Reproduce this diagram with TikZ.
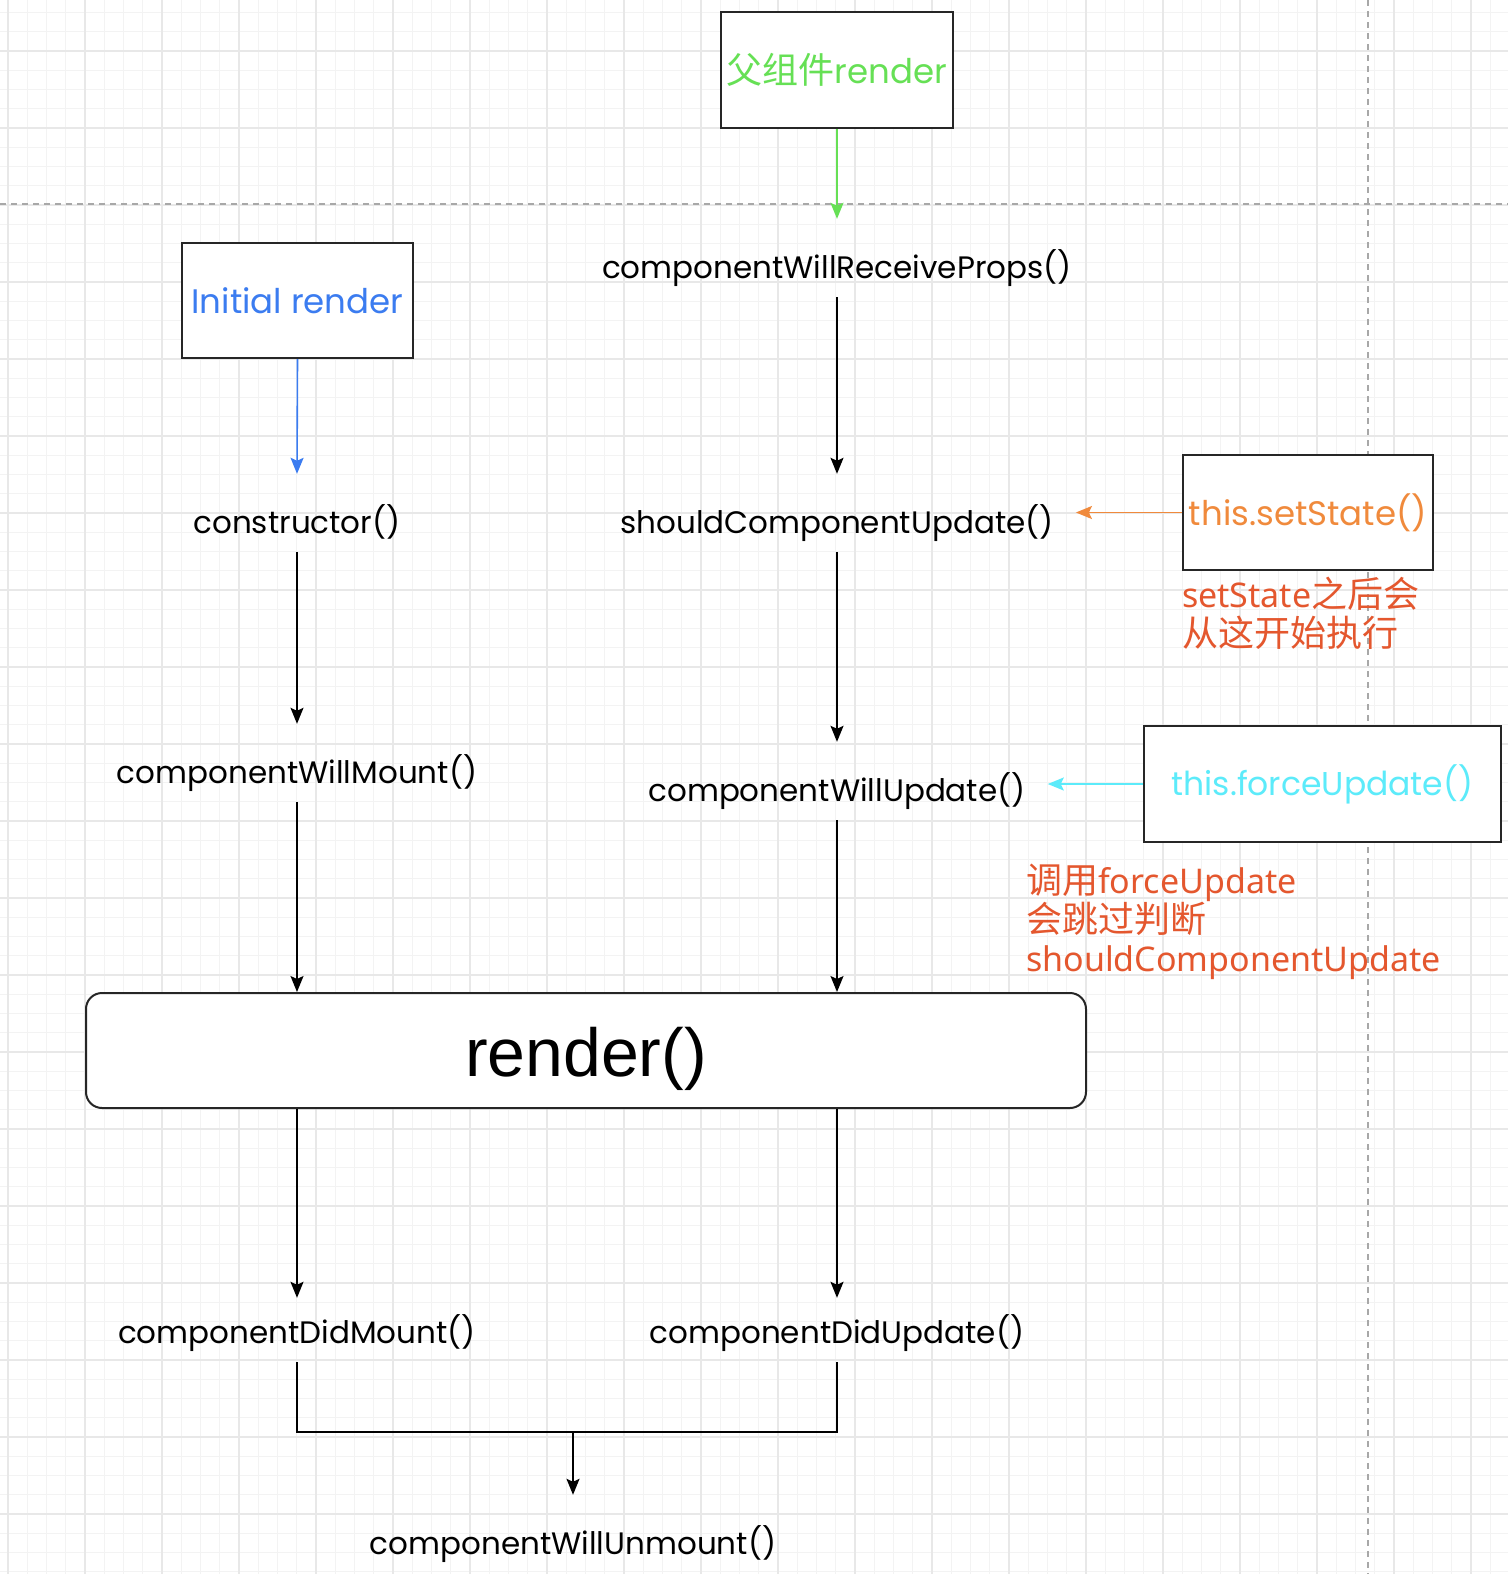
\documentclass[tikz,border=0pt]{standalone}
\usepackage{fontspec}
\setmainfont{Poppins}
\newfontfamily\cjk[Scale=1.06]{Noto Sans CJK SC}
\newfontfamily\notefont{Noto Sans}
\newfontfamily\renderfont{Liberation Sans}
\usetikzlibrary{arrows.meta, positioning}

\definecolor{gridmajor}{HTML}{E8E8E8}
\definecolor{gridminor}{HTML}{F3F3F3}
\definecolor{guidegray}{HTML}{A8A8A8}
\definecolor{parentgreen}{HTML}{66E055}
\definecolor{initblue}{HTML}{3B7CF0}
\definecolor{setorange}{HTML}{F08A3C}
\definecolor{forcecyan}{HTML}{5CEBFA}
\definecolor{notered}{HTML}{E4572E}

\newcommand{\hookfont}{\fontsize{31}{36}\selectfont}
\newcommand{\boxfont}{\fontsize{34}{40}\selectfont}

\begin{document}
\begin{tikzpicture}[x=1pt, y=-1pt,
    box/.style={rectangle, draw=black!85, line width=2pt, fill=white, inner xsep=2pt, font=\boxfont},
    hook/.style={font=\hookfont, inner ysep=0pt, inner xsep=22pt, text height=59pt, text depth=19pt, anchor=base},
    link/.style={-{Stealth[length=16pt, width=13pt, inset=3pt]}, line width=1.6pt},
    guide/.style={guidegray, line width=1.5pt, dash pattern=on 6pt off 5pt},
    note/.style={anchor=north west, align=left, text=notered, inner sep=0pt, font=\notefont\fontsize{34}{39}\selectfont}]

\useasboundingbox (0,0) rectangle (1508,1574);
\fill[white] (0,0) rectangle (1508,1574);

% background grid
\foreach \i in {-1,...,78}
    \draw[gridminor, line width=0.8pt] ({8+19.25*\i},0) -- ({8+19.25*\i},1574);
\foreach \i in {-2,...,79}
    \draw[gridminor, line width=0.8pt] (0,{51+19.25*\i}) -- (1508,{51+19.25*\i});
\foreach \i in {0,...,19}
    \draw[gridmajor, line width=1.2pt] ({8+77*\i},0) -- ({8+77*\i},1574);
\foreach \i in {0,...,19}
    \draw[gridmajor, line width=1.2pt] (0,{51+77*\i}) -- (1508,{51+77*\i});
\draw[guide] (0,204) -- (1508,204);
\draw[guide] (1368,0) -- (1368,1574);

% triggers
\node [box, minimum width=232, minimum height=116, text=parentgreen] (parent) at (837,70) {{\cjk 父组件}render};
\node [box, minimum width=231, minimum height=115, text=initblue] (init) at (297.5,300.5) {Initial render};
\node [box, minimum width=250, minimum height=115, text=setorange] (setstate) at (1308,512.5) {this.setState()};
\node [box, minimum width=357, minimum height=116, text=forcecyan, font=\fontsize{33}{40}\selectfont] (force) at (1322.5,784) {this.forceUpdate()};

% lifecycle hooks
\node [hook] (receive) at (837,278) {componentWillReceiveProps()};
\node [hook] (should) at (837,533) {shouldComponentUpdate()};
\node [hook] (willupdate) at (837,801) {componentWillUpdate()};
\node [hook] (ctor) at (297,533) {constructor()};
\node [hook] (willmount) at (297,783) {componentWillMount()};
\node [box, rounded corners=16pt, minimum width=1000, minimum height=115,
    font=\renderfont\fontsize{68}{76}\selectfont] (render) at (586,1050.5) {\raisebox{-8pt}[\height][\depth]{render()}};
\node [hook, text height=45pt] (didmount) at (297,1343) {componentDidMount()};
\node [hook, text height=45pt] (didupdate) at (837,1343) {componentDidUpdate()};
\node [hook] (unmount) at (573,1554) {componentWillUnmount()};

% notes
\node [note, below=6pt of setstate.south west, anchor=north west] (statenote)
    {setState{\cjk 之后会}\\{\cjk 从这开始执行}};
\node [note] (forcenote) at (1026,864)
    {{\cjk 调用}forceUpdate\\{\cjk 会跳过判断}\\shouldComponentUpdate};

% arrows
\draw[link, parentgreen] (parent.south) -- (receive.north);
\draw[link] (receive.south) -- (should.north);
\draw[link] (should.south) -- (willupdate.north);
\draw[link] (willupdate.south) -- (willupdate.south |- render.north);
\draw[link, initblue] (init.south) -- (ctor.north);
\draw[link] (ctor.south) -- (willmount.north);
\draw[link] (willmount.south) -- (willmount.south |- render.north);
\draw[link, setorange] (setstate.west) -- (setstate.west -| should.east);
\draw[link, forcecyan] (force.west) -- (force.west -| willupdate.east);
\draw[link] (render.south -| didmount.north) -- (didmount.north);
\draw[link] (render.south -| didupdate.north) -- (didupdate.north);
\draw[line width=1.6pt] (didmount.south) -- ++(0,70) coordinate (bend) -| (didupdate.south);
\draw[link] (unmount.north |- bend) -- (unmount.north);
\end{tikzpicture}
\end{document}
